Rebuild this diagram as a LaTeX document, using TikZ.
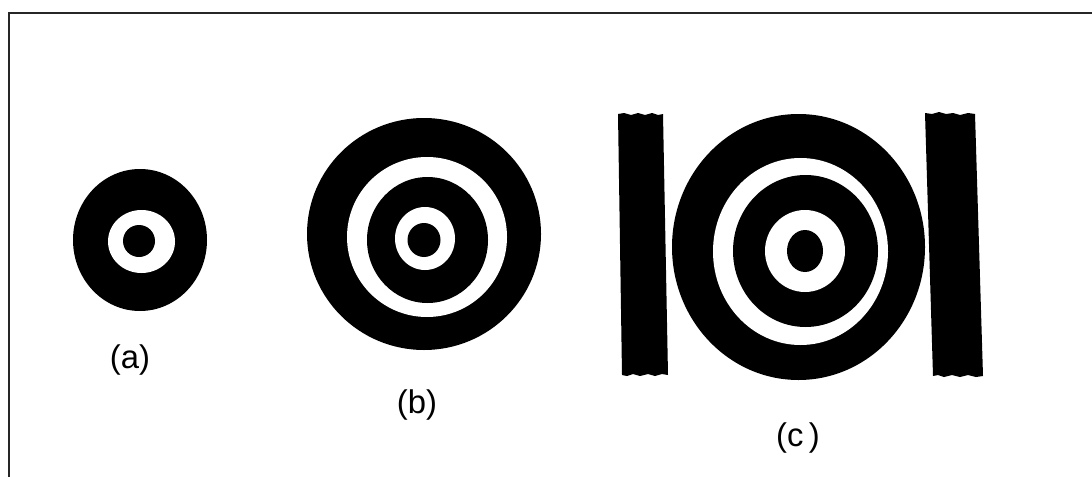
\documentclass[tikz,border=0pt]{standalone}
\usepackage{fontspec}
\newfontfamily\handfont{Liberation Sans}
\begin{document}
\begin{tikzpicture}[x=0.03cm,y=-0.03cm]
\tikzset{ink/.style={fill=black},paper/.style={fill=white},lbl/.style={font=\handfont\fontsize{28}{32}\selectfont,inner sep=0pt},frame/.style={line width=1.6pt,black!85}}
\useasboundingbox (0,0) rectangle (1092,477);
% frame (top and left edges visible)
\draw[frame] (1092,13) -- (9,13) -- (9,477);
% (a)
\fill[ink] (140,240) ellipse [x radius=67, y radius=71];
\fill[paper] (141.5,241.5) ellipse [x radius=33.5, y radius=31.5];
\fill[ink] (139,241) ellipse [x radius=16, y radius=16];
% (b)
\fill[ink] (424,234) ellipse [x radius=117, y radius=116];
\fill[paper] (427,237) ellipse [x radius=80, y radius=80];
\fill[ink] (427.5,240) ellipse [x radius=60.5, y radius=63];
\fill[paper] (425,238.5) ellipse [x radius=30, y radius=31.5];
\fill[ink] (424,240) ellipse [x radius=16.5, y radius=17];
% (c)
\fill[ink] (798.5,247) ellipse [x radius=126.5, y radius=133];
\fill[paper] (800.5,251.5) ellipse [x radius=87.5, y radius=93.5];
\fill[ink] (805.5,251) ellipse [x radius=72.5, y radius=76];
\fill[paper] (805,251) ellipse [x radius=40, y radius=41];
\fill[ink] (805,251) ellipse [x radius=18, y radius=21];
% bars
\fill[ink] (618,114) -- (624,113) -- (631,115) -- (638,113) -- (645,115) -- (652,113) -- (658,115) -- (663,114)
  -- (668,375) -- (662,374) -- (655,376) -- (648,374) -- (640,376) -- (633,374) -- (627,376) -- (622,375) -- cycle;
\fill[ink] (925,113) -- (932,114) -- (939,112) -- (946,114) -- (953,113) -- (960,115) -- (968,113) -- (975,114)
  -- (983,376) -- (976,377) -- (968,375) -- (960,377) -- (952,375) -- (944,377) -- (938,375) -- (933,376) -- cycle;
% labels
\node[lbl] (la) at (130,360) {(a)};
\node[lbl] (lb) at (417,405) {(b)};
\node[lbl] (lc) at (798,438) {(c\,)};
\end{tikzpicture}
\end{document}
